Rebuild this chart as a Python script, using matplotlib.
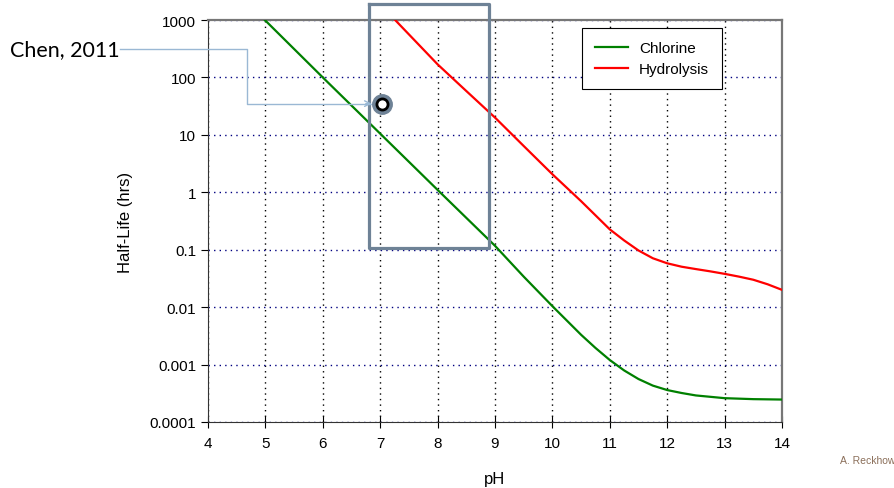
import numpy as np
import matplotlib.pyplot as plt
from matplotlib.ticker import FixedLocator, FixedFormatter

plt.rcParams['font.family'] = ['Liberation Sans', 'DejaVu Sans']

# Chlorine half-life curve
cl_ph = [4.99, 6, 7, 8, 9, 9.5, 10, 10.5, 10.75, 11, 11.25, 11.5, 11.75,
         12, 12.25, 12.5, 13, 13.5, 14]
cl_hl = [1000, 100, 10.5, 1.1, 0.117, 0.034, 0.0104, 0.0033, 0.00195, 0.0012,
         0.00079, 0.00056, 0.00043, 0.00036, 0.00032, 0.00029, 0.00026,
         0.00025, 0.000246]

# Hydrolysis half-life curve
hy_ph = [7.26, 8, 8.5, 9, 9.5, 10, 10.5, 11, 11.25, 11.5, 11.75, 12, 12.25,
         12.5, 12.75, 13, 13.25, 13.5, 13.75, 14]
hy_hl = [1000, 169, 58, 20, 6.4, 2.06, 0.70, 0.226, 0.145, 0.097, 0.071, 0.058,
         0.0506, 0.046, 0.042, 0.038, 0.034, 0.030, 0.025, 0.020]

# Chen, 2011 measurement
chen_ph = 7.03
chen_hl = 35

y_ticks = [1000, 100, 10, 1, 0.1, 0.01, 0.001, 0.0001]
y_labels = ['1000', '100', '10', '1', '0.1', '0.01', '0.001', '0.0001']
x_ticks = list(range(4, 15))

fig = plt.figure(figsize=(8.95, 4.89), dpi=100)
ax = fig.add_axes([208 / 895, 1 - 423 / 489, 574 / 895, 402 / 489])

ax.plot(cl_ph, cl_hl, color='#008000', lw=1.6, label='Chlorine', zorder=3)
ax.plot(hy_ph, hy_hl, color='#ff0000', lw=1.6, label='Hydrolysis', zorder=3)

ax.set_yscale('log')
ax.set_xlim(4, 14)
ax.set_ylim(0.0001, 1000)
ax.yaxis.set_major_locator(FixedLocator(y_ticks))
ax.yaxis.set_major_formatter(FixedFormatter(y_labels))
ax.yaxis.set_minor_locator(FixedLocator([]))
ax.set_xticks(x_ticks)

ax.grid(True, axis='x', color='black', ls=(0, (1, 3)), lw=1)
ax.grid(True, axis='y', color='#000080', ls=(0, (1, 3)), lw=1)
ax.tick_params(axis='x', direction='inout', length=8, labelsize=11, pad=6)
ax.tick_params(axis='y', direction='out', length=5, labelsize=11)
for side in ['left', 'bottom']:
    ax.spines[side].set_color('#333333')
for side in ['top', 'right']:
    ax.spines[side].set_color('#777777')
    ax.spines[side].set_linewidth(1.6)

ax.set_xlabel('pH', fontsize=12, labelpad=15)
ax.set_ylabel('Half-Life (hrs)', fontsize=12, labelpad=12)

leg = ax.legend(loc='upper right', bbox_to_anchor=(0.8955, 0.980),
                borderaxespad=0, fancybox=False, edgecolor='black',
                fontsize=11, handlelength=2.2, handletextpad=0.7,
                borderpad=0.85, labelspacing=0.45, framealpha=1)
leg.get_frame().set_linewidth(0.8)

# highlight box
ax.plot([6.8, 8.9, 8.9, 6.8, 6.8], [1900, 1900, 0.105, 0.105, 1900],
        color='#6e8296', lw=2.3, clip_on=False, zorder=4)

# Chen point and callout
ax.plot([2.47, 4.68, 4.68, 6.86], [311, 311, chen_hl, chen_hl], color='#9ab8d4',
        lw=1, clip_on=False, zorder=4)
ax.annotate('', xy=(6.9, chen_hl), xytext=(6.7, chen_hl),
            arrowprops=dict(arrowstyle='->', color='#9ab8d4', lw=1), zorder=4)
ax.plot([chen_ph], [chen_hl], marker='o', ms=14, mfc='#6e8296', mec='#6e8296',
        zorder=5)
ax.plot([chen_ph], [chen_hl], marker='o', ms=8, mfc='white', mec='black',
        mew=2, zorder=6)

fig.text(10 / 895, 1 - 50 / 489, 'Chen, 2011', fontsize=15.5, family='Lato',
         va='center', ha='left')
fig.text(895 / 895, 1 - 461 / 489, 'A. Reckhow', fontsize=7.5, color='#8b6f5a',
         ha='right', va='center')

fig.savefig('out.png', dpi=100)
